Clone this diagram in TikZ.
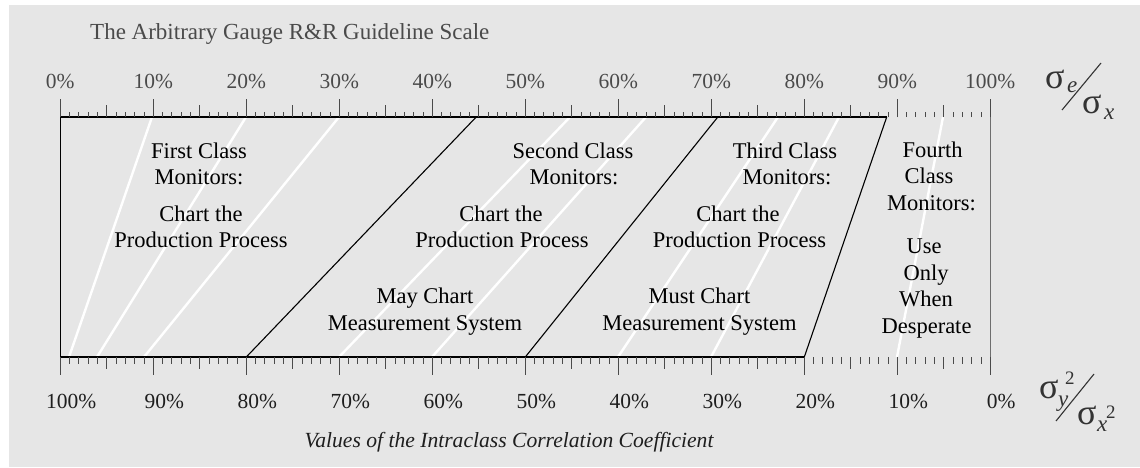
\documentclass[tikz,border=0pt]{standalone}
\usepackage{fontspec}
\setmainfont{Liberation Serif}
\definecolor{bg}{HTML}{E6E6E6}
\definecolor{toptext}{HTML}{4A4A4A}
\definecolor{bottext}{HTML}{1E1E1E}
\definecolor{tickc}{HTML}{4A4A4A}
\definecolor{sigc}{HTML}{333333}
\tikzset{
  regtext/.style={font=\fontsize{22.5}{26}\selectfont, inner sep=0pt, anchor=base, text=black},
  toppct/.style={font=\fontsize{21.5}{24}\selectfont, inner sep=0pt, anchor=base, text=toptext},
  botpct/.style={font=\fontsize{21.5}{24}\selectfont, inner sep=0pt, anchor=base, text=bottext},
  sig/.style={font=\fontsize{36}{38}\selectfont, inner sep=0pt, anchor=base west, text=sigc},
  sigsub/.style={font=\fontsize{23}{25}\selectfont\itshape, inner sep=0pt, anchor=base west, text=sigc},
  sigsup/.style={font=\fontsize{19}{21}\selectfont, inner sep=0pt, anchor=base west, text=sigc},
  whiteline/.style={white, line width=2.4pt},
  boxline/.style={black, line width=1.1pt},
  smalltick/.style={tickc, line width=0.9pt},
  bigtick/.style={tickc, line width=1.3pt},
}
\begin{document}
\begin{tikzpicture}[x=1pt,y=-1pt]
\useasboundingbox (0,0) rectangle (1140,467);
\fill[bg] (9,5) rectangle (1140,467);

% coordinates of the box
\coordinate (tl) at (60.3,117);
\coordinate (bl) at (60.3,357);
\coordinate (tr) at (886.7,117);
\coordinate (br) at (804.3,357);
\coordinate (a1) at (476.2,117);
\coordinate (b1) at (246.3,357);
\coordinate (a2) at (717.8,117);
\coordinate (b2) at (525.3,357);

% white iso-lines
\coordinate (w1t) at (152,117);  \coordinate (w1b) at (69,357);
\coordinate (w2t) at (246,117);  \coordinate (w2b) at (97,357);
\coordinate (w3t) at (339,117);  \coordinate (w3b) at (144,357);
\coordinate (w4t) at (570,117);  \coordinate (w4b) at (339,357);
\coordinate (w5t) at (646,117);  \coordinate (w5b) at (432,357);
\coordinate (w6t) at (778,117);  \coordinate (w6b) at (618,357);
\coordinate (w7t) at (839,117);  \coordinate (w7b) at (711,357);
\coordinate (w8t) at (943,117);  \coordinate (w8b) at (897,357);
\foreach \k in {1,...,8} \draw[whiteline] (w\k t) -- (w\k b);

% box lines
\draw[boxline] (tl) -- (tr);
\draw[boxline] (bl) -- (br);
\draw[boxline] (tl) -- (bl);
\draw[boxline] (a1) -- (b1);
\draw[boxline] (a2) -- (b2);
\draw[boxline] (tr) -- (br);

% right vertical line
\coordinate (rt) at (990.3,99);
\coordinate (rb) at (990.3,375);
\draw[tickc!80, line width=1.4pt] (rt) -- (rb);

% ticks top
\foreach \i in {0,...,100} \draw[smalltick] ({60.3+9.3*\i},117) -- ++(0,-5);
\foreach \i in {5,15,...,95} \draw[smalltick] ({60.3+9.3*\i},117) -- ++(0,-12);
\foreach \i in {0,10,...,100} \draw[bigtick] ({60.3+9.3*\i},117) -- ++(0,-18);
% ticks bottom
\foreach \i in {0,...,100} \draw[smalltick] ({60.3+9.3*\i},357) -- ++(0,7);
\foreach \i in {5,15,...,95} \draw[smalltick] ({60.3+9.3*\i},357) -- ++(0,12);
\foreach \i in {0,10,...,100} \draw[bigtick] ({60.3+9.3*\i},357) -- ++(0,18);

% axis labels
\foreach \i in {0,10,...,100}
  \node[toppct] (tp\i) at ({60.3+9.3*\i},88.3) {\i\%};
\foreach \i in {0,10,...,100}{
  \pgfmathtruncatemacro{\v}{100-\i}
  \node[botpct] (bp\i) at ({71.3+9.3*\i},408.3) {\v\%};
}

% title and caption
\node[font=\fontsize{23}{26}\selectfont, inner sep=0pt, anchor=base west, text=toptext] (title) at (90,39.5) {The Arbitrary Gauge R\&R Guideline Scale};
\node[font=\fontsize{21.6}{24}\selectfont\itshape, inner sep=0pt, anchor=base, text=bottext] (caption) at (509,447.5) {Values of the Intraclass Correlation Coefficient};

% region 1
\node[regtext] (r1a) at (199,158.3) {First Class};
\node[regtext] (r1b) at (199,184) {Monitors:};
\node[regtext] (r1c) at (201,221.7) {Chart the};
\node[regtext] (r1d) at (201,247.7) {Production Process};
% region 2
\node[regtext] (r2a) at (573,158.3) {Second Class};
\node[regtext] (r2b) at (574,184) {Monitors:};
\node[regtext] (r2c) at (501,221.7) {Chart the};
\node[regtext] (r2d) at (502,247.7) {Production Process};
\node[regtext] (r2e) at (425,303.3) {May Chart};
\node[regtext] (r2f) at (425,330) {Measurement System};
% region 3
\node[regtext] (r3a) at (785,158.3) {Third Class};
\node[regtext] (r3b) at (787,184) {Monitors:};
\node[regtext] (r3c) at (738,221.7) {Chart the};
\node[regtext] (r3d) at (739.5,247.7) {Production Process};
\node[regtext] (r3e) at (699.5,303.3) {Must Chart};
\node[regtext] (r3f) at (699.5,330) {Measurement System};
% region 4
\node[regtext] (r4a) at (932.5,157.7) {Fourth};
\node[regtext] (r4b) at (929,183.3) {Class};
\node[regtext] (r4c) at (931.5,210.7) {Monitors:};
\node[regtext] (r4d) at (924,253.3) {Use};
\node[regtext] (r4e) at (926,280) {Only};
\node[regtext] (r4f) at (926,306.7) {When};
\node[regtext] (r4g) at (926.5,333.3) {Desperate};

% sigma_e / sigma_x
\node[sig] (s1) at (1045,88) {σ};
\node[sigsub] (s1e) at (1067,92) {e};
\coordinate (sl1a) at (1062,110);
\coordinate (sl1b) at (1101,63);
\draw[sigc, line width=1.1pt] (sl1a) -- (sl1b);
\node[sig] (s2) at (1082,113) {σ};
\node[sigsub] (s2x) at (1104,119) {x};

% sigma_y^2 / sigma_x^2
\node[sig] (s3) at (1039,398) {σ};
\node[sigsub] (s3y) at (1058,406) {y};
\node[sigsup] (s3t) at (1065,384) {2};
\coordinate (sl2a) at (1056,421);
\coordinate (sl2b) at (1094,374);
\draw[sigc, line width=1.1pt] (sl2a) -- (sl2b);
\node[sig] (s4) at (1077,424) {σ};
\node[sigsub] (s4x) at (1097,431) {x};
\node[sigsup] (s4t) at (1106,418) {2};
\end{tikzpicture}
\end{document}
